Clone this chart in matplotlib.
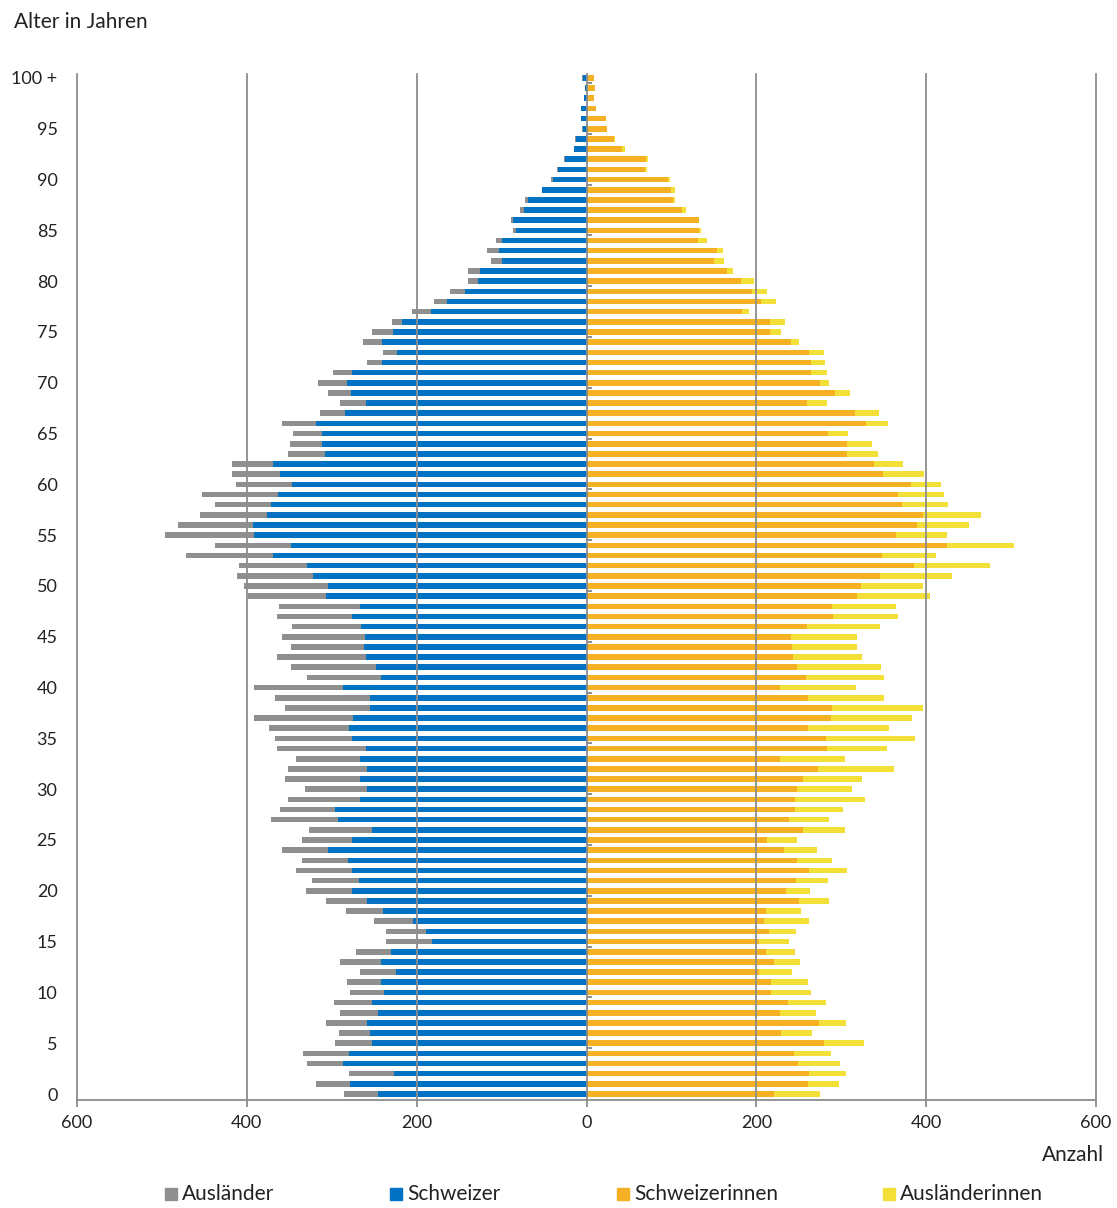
import matplotlib
matplotlib.use('Agg')
import matplotlib.pyplot as plt
import numpy as np
from matplotlib.patches import Rectangle

plt.rcParams['font.family'] = ['Lato', 'DejaVu Sans']

ages = np.arange(0, 101)

# Schweizer (men, Swiss), age 0 .. 100+
schweizer = np.array([
    246, 278, 227, 287, 280, 253, 255, 258, 246, 253,
    239, 242, 224, 242, 230, 182, 189, 204, 240, 258,
    276, 268, 276, 281, 305, 276, 253, 293, 296, 267,
    258, 267, 258, 267, 260, 276, 280, 275, 255, 255,
    287, 242, 248, 260, 262, 261, 265, 276, 267, 307,
    305, 322, 329, 369, 348, 392, 393, 376, 371, 363,
    347, 361, 369, 308, 312, 312, 319, 284, 260, 277,
    282, 276, 241, 223, 241, 228, 217, 183, 164, 143,
    128, 125, 99, 103, 100, 83, 86, 74, 69, 52,
    40, 33, 25, 15, 12, 4, 6, 6, 3, 2,
    4])

# Auslaender (men, foreign)
auslaender = np.array([
    39, 40, 53, 42, 54, 43, 36, 49, 44, 44,
    39, 40, 43, 48, 41, 54, 47, 46, 43, 49,
    54, 55, 66, 54, 53, 59, 74, 78, 65, 84,
    73, 88, 93, 75, 104, 91, 94, 116, 100, 112,
    104, 87, 100, 104, 86, 97, 82, 88, 95, 92,
    98, 89, 80, 103, 90, 104, 88, 79, 66, 90,
    66, 57, 48, 44, 37, 34, 40, 30, 30, 28,
    34, 23, 17, 17, 22, 25, 12, 22, 15, 18,
    11, 14, 13, 14, 6, 4, 3, 4, 3, 0,
    2, 2, 1, 0, 1, 1, 1, 1, 0, 0,
    1])

# Schweizerinnen (women, Swiss)
schweizerinnen = np.array([
    221, 261, 262, 249, 244, 280, 229, 274, 228, 237,
    217, 217, 203, 221, 211, 203, 215, 209, 211, 250,
    235, 247, 262, 248, 233, 213, 255, 239, 246, 246,
    248, 255, 273, 228, 283, 282, 261, 288, 289, 261,
    228, 259, 248, 243, 242, 241, 260, 290, 289, 319,
    323, 346, 386, 348, 424, 365, 389, 396, 371, 367,
    382, 349, 339, 307, 307, 284, 329, 316, 260, 293,
    275, 264, 264, 262, 241, 216, 216, 183, 206, 195,
    182, 166, 150, 154, 131, 133, 132, 113, 102, 100,
    96, 69, 70, 42, 32, 24, 23, 11, 9, 10,
    9])

# Auslaenderinnen (women, foreign)
auslaenderinnen = np.array([
    54, 36, 44, 49, 44, 47, 37, 32, 42, 45,
    47, 44, 39, 30, 35, 36, 32, 53, 42, 36,
    28, 37, 45, 41, 38, 35, 50, 47, 56, 82,
    65, 69, 89, 77, 71, 105, 95, 95, 107, 89,
    89, 91, 99, 82, 77, 77, 86, 77, 75, 85,
    73, 84, 89, 64, 79, 59, 61, 69, 55, 54,
    35, 49, 34, 36, 29, 24, 26, 29, 23, 17,
    10, 19, 17, 18, 9, 13, 18, 8, 17, 18,
    15, 6, 12, 7, 11, 2, 1, 4, 2, 4,
    2, 2, 2, 3, 1, 0, 0, 0, 0, 0,
    0])

age_ticks = list(range(0, 101, 5))
age_labels = [str(a) for a in age_ticks[:-1]] + ['100 +']
x_ticks = [-600, -400, -200, 0, 200, 400, 600]

c_gray = '#8f8f8f'
c_blue = '#0072c3'
c_orange = '#f5b024'
c_yellow = '#f2df38'
c_line = '#8c8c8c'
c_text = '#222222'

W, H = 1117, 1208
fig = plt.figure(figsize=(W / 100, H / 100), dpi=100)
ax = fig.add_axes([77 / W, 108 / H, 1019 / W, 1026 / H])

bh = 0.55
ax.barh(ages, -schweizer, height=bh, color=c_blue, zorder=2)
ax.barh(ages, -auslaender, left=-schweizer, height=bh, color=c_gray, zorder=2)
ax.barh(ages, schweizerinnen, height=bh, color=c_orange, zorder=2)
ax.barh(ages, auslaenderinnen, left=schweizerinnen, height=bh, color=c_yellow, zorder=2)

for xv in x_ticks:
    ax.axvline(xv, color=c_line, lw=1.3, zorder=3, clip_on=False)

# small category ticks on the centre axis
ax.hlines(np.arange(4.5, 100, 5), 0, 7, color=c_line, lw=1.4, zorder=3)

ax.set_xlim(-600, 600)
ax.set_ylim(-0.59, 100.39)

for s in ['top', 'left', 'right']:
    ax.spines[s].set_visible(False)
ax.spines['bottom'].set_color(c_line)
ax.spines['bottom'].set_linewidth(1.3)
ax.spines['bottom'].set_zorder(4)

ax.set_xticks(x_ticks)
ax.set_xticklabels([str(abs(v)) for v in x_ticks])
ax.tick_params(axis='x', length=5, width=1.3, color=c_line, labelsize=13, pad=6,
               labelcolor=c_text)
ax.set_yticks(age_ticks)
ax.set_yticklabels(age_labels)
ax.tick_params(axis='y', length=0, labelsize=13, pad=14, labelcolor=c_text)

fig.text(14 / W, 1 - 22 / H, 'Alter in Jahren', fontsize=15, va='center', ha='left',
         color=c_text)
fig.text(1104 / W, 1 - 1155 / H, 'Anzahl', fontsize=15, va='center', ha='right',
         color=c_text)

legend_items = [('Ausländer', c_gray, 165), ('Schweizer', c_blue, 390),
                ('Schweizerinnen', c_orange, 617), ('Ausländerinnen', c_yellow, 883)]
for name, col, px in legend_items:
    fig.patches.append(Rectangle((px / W, 1 - 1200 / H), 12 / W, 12 / H,
                                 transform=fig.transFigure, color=col))
    fig.text((px + 17) / W, 1 - 1194 / H, name, fontsize=15, va='center', ha='left',
             color=c_text)

fig.savefig('out.png', dpi=100)
